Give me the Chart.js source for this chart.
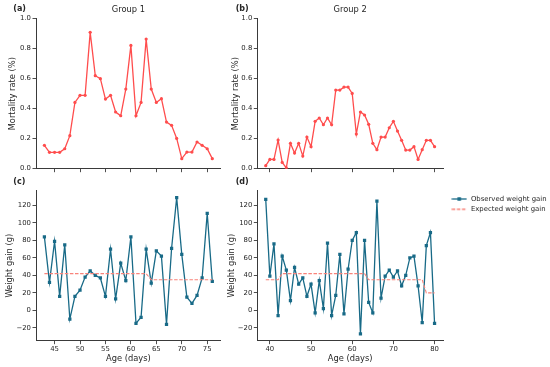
<!DOCTYPE html>
<html>
<head>
<meta charset="utf-8">
<script src="https://cdn.jsdelivr.net/npm/chart.js@4.4.1/dist/chart.umd.min.js"></script>
<style>
html,body{margin:0;padding:0;background:#ffffff;width:550px;height:367px;overflow:hidden;}
canvas{position:absolute;display:block;}
</style>
</head>
<body>
<canvas id="pa" width="225" height="175" style="left:0px;top:0px;width:225px;height:175px"></canvas>
<canvas id="pb" width="325" height="175" style="left:225px;top:0px;width:325px;height:175px"></canvas>
<canvas id="pc" width="225" height="192" style="left:0px;top:175px;width:225px;height:192px"></canvas>
<canvas id="pd" width="325" height="192" style="left:225px;top:175px;width:325px;height:192px"></canvas>
<script>
// ---------------- data ----------------
const daysGroup1 = [43,44,45,46,47,48,49,50,51,52,53,54,55,56,57,58,59,60,61,62,63,64,65,66,67,68,69,70,71,72,73,74,75,76];
const mortalityGroup1 = [0.156,0.109,0.109,0.109,0.133,0.220,0.442,0.489,0.489,0.909,0.620,0.600,0.464,0.489,0.378,0.353,0.531,0.822,0.353,0.442,0.864,0.531,0.442,0.467,0.311,0.289,0.202,0.067,0.111,0.111,0.178,0.156,0.133,0.067];
const observedGroup1 = [84,32,79,16,75,-10,16,23,38,45,40,37,16,70,13,54,34,84,-15,-8,70,31,68,62,-16,71,129,64,15,8,17,37,111,33];
const expectedGroup1 = [42,42,42,42,42,42,42,42,42,42,42,42,42,42,42,42,42,42,42,42,42,35,35,35,35,35,35,35,35,35,35,35,35,35];

const daysGroup2 = [39,40,41,42,43,44,45,46,47,48,49,50,51,52,53,54,55,56,57,58,59,60,61,62,63,64,65,66,67,68,69,70,71,72,73,74,75,76,77,78,79,80];
const mortalityGroup2 = [0.020,0.062,0.062,0.191,0.042,0.005,0.169,0.104,0.169,0.084,0.211,0.147,0.316,0.338,0.293,0.338,0.293,0.524,0.524,0.544,0.544,0.502,0.231,0.378,0.358,0.296,0.169,0.127,0.211,0.211,0.273,0.316,0.251,0.189,0.124,0.124,0.147,0.062,0.127,0.189,0.189,0.147];
const observedGroup2 = [127,39,76,-6,62,46,11,49,30,37,16,30,-3,34,2,77,-6,17,64,-4,47,80,89,-27,80,9,-3,125,14,39,46,38,45,28,40,60,62,28,-14,74,89,-15];
const expectedGroup2 = [35,35,35,35,42,42,42,42,42,42,42,42,42,42,42,42,42,42,42,42,42,42,42,42,42,35,35,35,35,35,35,35,35,35,35,35,35,35,35,20,20,20];

const xTicksGroup1 = [45,50,55,60,65,70,75];
const xTicksGroup2 = [40,50,60,70,80];
const mortalityTicks = [0.0,0.2,0.4,0.6,0.8,1.0];
const weightTicks = [-20,0,20,40,60,80,100,120];

const groupTitles = ['Group 1','Group 2'];
const panelLetters = ['(a)','(b)','(c)','(d)'];
const seriesLabels = ['Observed weight gain','Expected weight gain'];

// ---------------- styles ----------------
const FONT = "'DejaVu Sans', 'Liberation Sans', sans-serif";
const INK = '#262626';
const AXIS = '#3a3a3a';
const RED = '#ff4d4d';
const TEAL = '#186a87';
const SALMON = '#f9837a';

function pts(xs, ys){ return xs.map((x,i)=>({x:x, y:ys[i]})); }

function legendIcon(color, dash, marker){
  const c = document.createElement('canvas');
  c.width = 16; c.height = 6;
  const g = c.getContext('2d');
  g.strokeStyle = color; g.lineWidth = 1.3; g.setLineDash(dash);
  g.beginPath(); g.moveTo(0.5, 3); g.lineTo(15.5, 3); g.stroke();
  if (marker) { g.fillStyle = color; g.fillRect(6.25, 1.25, 3.5, 3.5); }
  return c;
}
const legendIcons = [legendIcon(TEAL, [], true), legendIcon(SALMON, [3.5,1.6], false)];

const panelText = {
  id: 'panelText',
  afterDraw(chart, args, o) {
    const ctx = chart.ctx; ctx.save();
    ctx.fillStyle = INK; ctx.textBaseline = 'middle';
    if (o.letter) { ctx.font = 'bold 8px ' + FONT; ctx.textAlign = 'left'; ctx.fillText(o.letter, o.lx, o.ly); }
    if (o.title) { ctx.font = '8.3px ' + FONT; ctx.textAlign = 'center'; const a = chart.chartArea; ctx.fillText(o.title, (a.left + a.right) / 2, o.ty); }
    ctx.restore();
  }
};

const legendMover = {
  id: 'legendMover',
  afterLayout(chart, args, o) {
    const lg = chart.legend;
    if (!lg || !o || o.x === undefined) return;
    lg.left = o.x; lg.top = o.y; lg.right = o.x + lg.width; lg.bottom = o.y + 100;
  }
};

function axisCommon(){
  return {
    grid: { display: true, drawOnChartArea: false, drawTicks: true, tickLength: 3.5, tickWidth: 0.9, tickColor: AXIS },
    border: { display: true, color: AXIS, width: 1 }
  };
}

function makeChart(id, c){
  const ax = axisCommon(), ay = axisCommon();
  return new Chart(document.getElementById(id), {
    type: 'line',
    data: { datasets: c.datasets },
    options: {
      responsive: false, animation: false, devicePixelRatio: 1, events: [],
      layout: { autoPadding: false, padding: { left: 0, top: c.padTop, right: c.padRight, bottom: 0 } },
      plugins: {
        legend: c.legend || { display: false },
        tooltip: { enabled: false },
        panelText: c.text,
        legendMover: c.legendPos || {}
      },
      scales: {
        x: {
          type: 'linear', min: c.xMin, max: c.xMax,
          afterBuildTicks: s => { s.ticks = c.xTicks.map(v => ({ value: v })); },
          afterFit: s => { s.height = c.xh; },
          grid: ax.grid, border: ax.border,
          ticks: { display: c.xLabels, color: INK, font: { family: FONT, size: 6.9 }, padding: 0.5, maxRotation: 0, autoSkip: false, callback: v => String(v) },
          title: { display: c.xLabels, text: 'Age (days)', color: INK, font: { family: FONT, size: 8.3 }, padding: { top: 0, bottom: 3 } }
        },
        y: {
          type: 'linear', min: c.yMin, max: c.yMax,
          afterBuildTicks: s => { s.ticks = c.yTicks.map(v => ({ value: v })); },
          afterFit: s => { s.width = c.yw; },
          grid: ay.grid, border: ay.border,
          ticks: { color: INK, font: { family: FONT, size: 6.9 }, padding: 1.5, autoSkip: false, callback: c.yFmt },
          title: { display: true, text: c.yTitle, color: INK, font: { family: FONT, size: 8.3 }, padding: { top: c.yTitlePad, bottom: 0 } }
        }
      }
    },
    plugins: [panelText, legendMover]
  });
}

function mortalitySet(xs, ys){
  return { data: pts(xs, ys), borderColor: RED, backgroundColor: RED, borderWidth: 1.3,
           pointRadius: 1.6, pointBackgroundColor: RED, pointBorderWidth: 0, tension: 0, fill: false };
}
function weightSets(xs, obs, exp){
  return [
    { label: seriesLabels[0], data: pts(xs, obs), borderColor: TEAL, backgroundColor: TEAL, borderWidth: 1.3,
      pointStyle: 'rect', pointRadius: 2.3, pointBackgroundColor: TEAL, pointBorderWidth: 0, tension: 0, fill: false, order: 1 },
    { label: seriesLabels[1], data: pts(xs, exp), borderColor: SALMON, backgroundColor: SALMON, borderWidth: 1.1,
      borderDash: [3.5,1.6], pointRadius: 0, tension: 0, fill: false, order: 0 }
  ];
}

const fmtMort = v => Number(v).toFixed(1);
const fmtWeight = v => (v < 0 ? '\u2212' + Math.abs(v) : String(v));

// x ranges (matplotlib-like 5% margins)
const x1Min = 41.35, x1Max = 77.65, x2Min = 36.95, x2Max = 82.05;
const wMin = -34.8, wMax = 136.9;

makeChart('pa', {
  datasets: [mortalitySet(daysGroup1, mortalityGroup1)],
  padTop: 18.7, padRight: 4.3, xh: 6.3, yw: 36,
  xMin: x1Min, xMax: x1Max, xTicks: xTicksGroup1, xLabels: false,
  yMin: 0, yMax: 1, yTicks: mortalityTicks, yFmt: fmtMort, yTitle: 'Mortality rate (%)', yTitlePad: 7.4,
  text: { letter: panelLetters[0], lx: 13.3, ly: 9.4, title: groupTitles[0], ty: 9.8 }
});
makeChart('pb', {
  datasets: [mortalitySet(daysGroup2, mortalityGroup2)],
  padTop: 18.7, padRight: 107, xh: 6.3, yw: 32.3,
  xMin: x2Min, xMax: x2Max, xTicks: xTicksGroup2, xLabels: false,
  yMin: 0, yMax: 1, yTicks: mortalityTicks, yFmt: fmtMort, yTitle: 'Mortality rate (%)', yTitlePad: 5.5,
  text: { letter: panelLetters[1], lx: 10.7, ly: 9.4, title: groupTitles[1], ty: 9.8 }
});
makeChart('pc', {
  datasets: weightSets(daysGroup1, observedGroup1, expectedGroup1),
  padTop: 15.7, padRight: 4.3, xh: 26.3, yw: 36,
  xMin: x1Min, xMax: x1Max, xTicks: xTicksGroup1, xLabels: true,
  yMin: wMin, yMax: wMax, yTicks: weightTicks, yFmt: fmtWeight, yTitle: 'Weight gain (g)', yTitlePad: 5,
  text: { letter: panelLetters[2], lx: 13.3, ly: 6.7 }
});
makeChart('pd', {
  datasets: weightSets(daysGroup2, observedGroup2, expectedGroup2),
  padTop: 15.7, padRight: 107, xh: 26.3, yw: 32.3,
  xMin: x2Min, xMax: x2Max, xTicks: xTicksGroup2, xLabels: true,
  yMin: wMin, yMax: wMax, yTicks: weightTicks, yFmt: fmtWeight, yTitle: 'Weight gain (g)', yTitlePad: 1.7,
  text: { letter: panelLetters[3], lx: 10.7, ly: 6.7 },
  legend: { display: true, position: 'chartArea', align: 'start',
    labels: { usePointStyle: true, pointStyleWidth: 16.5, boxHeight: 6.9, padding: 3.4, color: INK,
      font: { family: FONT, size: 6.9 },
      generateLabels: chart => chart.data.datasets.map((ds, i) => ({
        text: ds.label, pointStyle: legendIcons[i], datasetIndex: i, hidden: false,
        lineWidth: 0, strokeStyle: 'rgba(0,0,0,0)', fillStyle: 'rgba(0,0,0,0)', fontColor: INK })) } },
  legendPos: { x: 222.55, y: 17.15 }
});
</script>
</body>
</html>
